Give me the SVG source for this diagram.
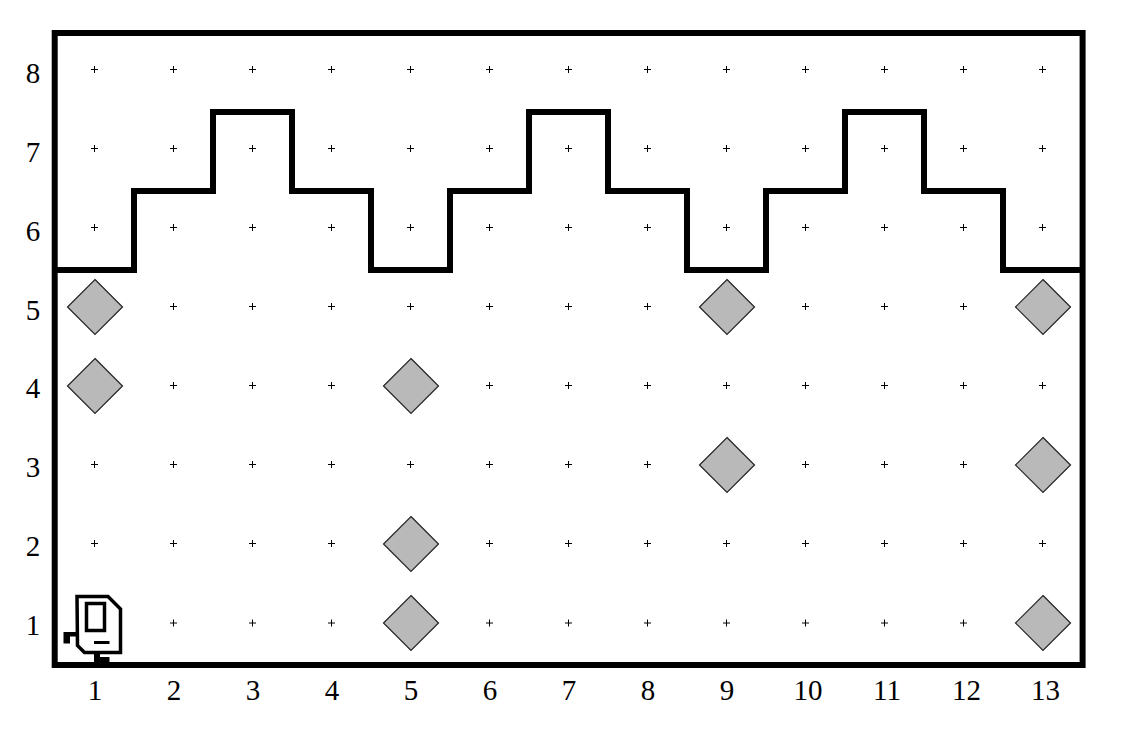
<svg xmlns="http://www.w3.org/2000/svg" width="1126" height="736" viewBox="0 0 1126 736">
<style>
text{font-family:"Liberation Serif","Times New Roman",serif;font-size:29px;fill:#000;text-anchor:middle}
.wall{fill:none;stroke:#000;stroke-width:6;stroke-linejoin:miter;stroke-linecap:square}
.plus{stroke:#000;stroke-width:1;fill:none}
.beeper{fill:#b9b9b9;stroke:#222;stroke-width:1.2}
.robot{fill:none;stroke:#000;stroke-width:3.5;stroke-linejoin:miter}
</style>
<defs>
<path id="p" class="plus" d="M-3.5 0H3.5M0-3.5V3.5"/>
<polygon id="b" class="beeper" points="0,-27.5 27.5,0 0,27.500 -27.500,0"/>
</defs>
<rect width="1126" height="736" fill="#fff"/>
<g id="walls">
<rect class="wall" x="54.700" y="33" width="1027.900" height="632"/>
<path class="wall" d="M55 270H134V191H213V112H292V191H371V270H450V191H529V112H608V191H687V270H766V191H845V112H924V191H1003V270H1082"/>
</g>
<g id="corners" transform="translate(-0.5 -0.5)">
<use href="#p" x="95" y="70"/><use href="#p" x="174" y="70"/><use href="#p" x="253" y="70"/><use href="#p" x="332" y="70"/><use href="#p" x="411" y="70"/><use href="#p" x="490" y="70"/><use href="#p" x="569" y="70"/><use href="#p" x="648" y="70"/><use href="#p" x="727" y="70"/><use href="#p" x="806" y="70"/><use href="#p" x="885" y="70"/><use href="#p" x="964" y="70"/><use href="#p" x="1043" y="70"/>
<use href="#p" x="95" y="149"/><use href="#p" x="174" y="149"/><use href="#p" x="253" y="149"/><use href="#p" x="332" y="149"/><use href="#p" x="411" y="149"/><use href="#p" x="490" y="149"/><use href="#p" x="569" y="149"/><use href="#p" x="648" y="149"/><use href="#p" x="727" y="149"/><use href="#p" x="806" y="149"/><use href="#p" x="885" y="149"/><use href="#p" x="964" y="149"/><use href="#p" x="1043" y="149"/>
<use href="#p" x="95" y="228"/><use href="#p" x="174" y="228"/><use href="#p" x="253" y="228"/><use href="#p" x="332" y="228"/><use href="#p" x="411" y="228"/><use href="#p" x="490" y="228"/><use href="#p" x="569" y="228"/><use href="#p" x="648" y="228"/><use href="#p" x="727" y="228"/><use href="#p" x="806" y="228"/><use href="#p" x="885" y="228"/><use href="#p" x="964" y="228"/><use href="#p" x="1043" y="228"/>
<use href="#p" x="174" y="307"/><use href="#p" x="253" y="307"/><use href="#p" x="332" y="307"/><use href="#p" x="411" y="307"/><use href="#p" x="490" y="307"/><use href="#p" x="569" y="307"/><use href="#p" x="648" y="307"/><use href="#p" x="806" y="307"/><use href="#p" x="885" y="307"/><use href="#p" x="964" y="307"/>
<use href="#p" x="174" y="386"/><use href="#p" x="253" y="386"/><use href="#p" x="332" y="386"/><use href="#p" x="490" y="386"/><use href="#p" x="569" y="386"/><use href="#p" x="648" y="386"/><use href="#p" x="727" y="386"/><use href="#p" x="806" y="386"/><use href="#p" x="885" y="386"/><use href="#p" x="964" y="386"/><use href="#p" x="1043" y="386"/>
<use href="#p" x="95" y="465"/><use href="#p" x="174" y="465"/><use href="#p" x="253" y="465"/><use href="#p" x="332" y="465"/><use href="#p" x="411" y="465"/><use href="#p" x="490" y="465"/><use href="#p" x="569" y="465"/><use href="#p" x="648" y="465"/><use href="#p" x="806" y="465"/><use href="#p" x="885" y="465"/><use href="#p" x="964" y="465"/>
<use href="#p" x="95" y="544"/><use href="#p" x="174" y="544"/><use href="#p" x="253" y="544"/><use href="#p" x="332" y="544"/><use href="#p" x="490" y="544"/><use href="#p" x="569" y="544"/><use href="#p" x="648" y="544"/><use href="#p" x="727" y="544"/><use href="#p" x="806" y="544"/><use href="#p" x="885" y="544"/><use href="#p" x="964" y="544"/><use href="#p" x="1043" y="544"/>
<use href="#p" x="174" y="623.500"/><use href="#p" x="253" y="623.500"/><use href="#p" x="332" y="623.500"/><use href="#p" x="490" y="623.500"/><use href="#p" x="569" y="623.500"/><use href="#p" x="648" y="623.500"/><use href="#p" x="727" y="623.500"/><use href="#p" x="806" y="623.500"/><use href="#p" x="885" y="623.500"/><use href="#p" x="964" y="623.500"/>
</g>
<g id="beepers">
<use href="#b" x="95" y="307"/><use href="#b" x="727" y="307"/><use href="#b" x="1043" y="307"/>
<use href="#b" x="95" y="386"/><use href="#b" x="411" y="386"/>
<use href="#b" x="727" y="465"/><use href="#b" x="1043" y="465"/>
<use href="#b" x="411" y="544"/>
<use href="#b" x="411" y="623"/><use href="#b" x="1043" y="623"/>
</g>
<g id="robot">
<path class="robot" d="M77 596.500H108L120.500 609V652.500H84.500L77.500 645.500Z"/>
<rect class="robot" x="86.500" y="603.500" width="18" height="27"/>
<path d="M94 641H109.500V644H94ZM94 654H100V657H109.500V662H94ZM63.500 632H77V636.500H70V643.500H63.500Z" fill="#000"/>
</g>
<g id="row-labels">
<text x="33" y="83">8</text><text x="33" y="162">7</text><text x="33" y="241">6</text><text x="33" y="319.500">5</text><text x="33" y="398">4</text><text x="33" y="477">3</text><text x="33" y="556">2</text><text x="33" y="635">1</text>
</g>
<g id="column-labels">
<text x="95" y="700">1</text><text x="174" y="700">2</text><text x="253" y="700">3</text><text x="332" y="700">4</text><text x="411" y="700">5</text><text x="490" y="700">6</text><text x="569" y="700">7</text><text x="648" y="700">8</text><text x="727" y="700">9</text><text x="808" y="700">10</text><text x="887" y="700">11</text><text x="966.500" y="700">12</text><text x="1045.500" y="700">13</text>
</g>
</svg>
